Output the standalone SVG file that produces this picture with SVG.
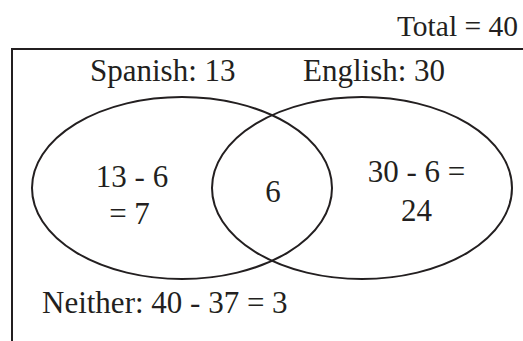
<svg xmlns="http://www.w3.org/2000/svg" width="523" height="341" viewBox="0 0 523 341">
<style>
text { font-family: "Liberation Serif", "Times New Roman", serif; font-size: 31px; fill: #231f20; }
.line { fill: none; stroke: #231f20; stroke-width: 2; }
.mid { text-anchor: middle; }
</style>
<rect width="523" height="341" fill="#ffffff"/>
<g id="frame">
<path class="line" d="M12,341 V49 H523"/>
<text x="518" y="36" text-anchor="end" style="font-size:29.5px">Total = 40</text>
</g>
<g id="spanish">
<ellipse class="line" cx="182" cy="188" rx="150" ry="91"/>
<text x="90" y="81">Spanish: 13</text>
<text class="mid" x="132" y="187">13 - 6</text>
<text class="mid" x="129.5" y="224">= 7</text>
</g>
<g id="english">
<ellipse class="line" cx="362" cy="188" rx="150" ry="91"/>
<text x="303" y="81">English: 30</text>
<text class="mid" x="416.5" y="182">30 - 6 =</text>
<text class="mid" x="416.5" y="221">24</text>
</g>
<g id="both">
<text class="mid" x="273" y="202">6</text>
</g>
<g id="neither">
<text x="42" y="313">Neither: 40 - 37 = 3</text>
</g>
<g id="connectors"></g>
</svg>
